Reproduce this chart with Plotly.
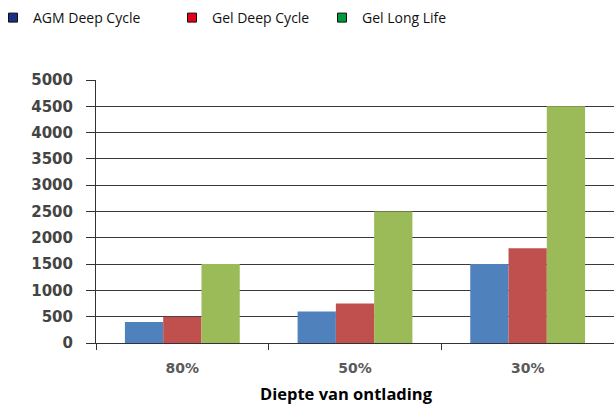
import plotly.graph_objects as go

categories = ["80%", "50%", "30%"]
series_names = ["AGM Deep Cycle", "Gel Deep Cycle", "Gel Long Life"]
agm_deep_cycle = [400, 600, 1500]
gel_deep_cycle = [500, 750, 1800]
gel_long_life = [1500, 2500, 4500]
y_ticks = [0, 500, 1000, 1500, 2000, 2500, 3000, 3500, 4000, 4500, 5000]
x_title = "Diepte van ontlading"

bar_colors = ["#4F81BD", "#C0504D", "#9BBB59"]
legend_colors = ["#1B2F85", "#E3001B", "#009A3D"]
legend_px = [-7, 172, 322]

W, H = 614, 405
ML, MR, MT, MB = 96, 0, 80, 62
PW, PH = W - ML - MR, H - MT - MB

fig = go.Figure()
for vals, col in zip([agm_deep_cycle, gel_deep_cycle, gel_long_life], bar_colors):
    fig.add_trace(go.Bar(x=categories, y=vals, marker=dict(color=col, line=dict(width=0)),
                         showlegend=False, hoverinfo="x+y"))

legend_ids = ["legend", "legend2", "legend3"]
for name, col, lid in zip(series_names, legend_colors, legend_ids):
    fig.add_trace(go.Scatter(x=[categories[0]], y=[None], mode="markers", name=name,
                             marker=dict(symbol="square", size=9, color=col,
                                         line=dict(color="#111111", width=1)),
                             legend=lid, showlegend=True, hoverinfo="skip"))

leg_common = dict(xref="paper", yref="paper", xanchor="left", yanchor="middle",
                  y=(H - MB - 18) / PH, bgcolor="rgba(0,0,0,0)", itemwidth=30,
                  font=dict(family="Open Sans", size=14, color="#111111"))
layout_legends = {}
for lid, lx in zip(legend_ids, legend_px):
    layout_legends[lid] = dict(x=(lx - ML) / PW, **leg_common)

fig.update_layout(
    width=W, height=H,
    margin=dict(l=ML, r=MR, t=MT, b=MB, autoexpand=False),
    paper_bgcolor="white", plot_bgcolor="white",
    barmode="group", bargap=0.335, bargroupgap=0,
    hovermode=False,
    **layout_legends,
    xaxis=dict(
        type="category", categoryorder="array", categoryarray=categories,
        showgrid=False, showline=True, linecolor="#333333", linewidth=1,
        ticks="outside", tickson="boundaries", ticklen=6, tickcolor="#333333",
        tickangle=0, ticklabelstandoff=12,
        tickfont=dict(family="DejaVu Sans", size=14, color="#5a5a5a", weight="bold"),
    ),
    yaxis=dict(
        range=[0, 5000], tickvals=y_ticks, showgrid=True, gridcolor="#3a3a3a", gridwidth=1,
        showline=True, linecolor="#333333", linewidth=1, zeroline=False,
        ticks="outside", ticklen=9, tickcolor="#333333", ticklabelstandoff=10,
        tickfont=dict(family="DejaVu Sans", size=15, color="#444444", weight="bold"),
    ),
    annotations=[dict(
        text=x_title, xref="paper", yref="paper",
        x=(346.5 - ML) / PW, y=-(393 - (H - MB)) / PH,
        xanchor="center", yanchor="middle", showarrow=False,
        font=dict(family="Open Sans", size=16.5, color="#000000", weight="bold"),
    )],
)

fig.write_html("out.html", config={"displayModeBar": False},
               post_script="document.body.style.margin='0';")
